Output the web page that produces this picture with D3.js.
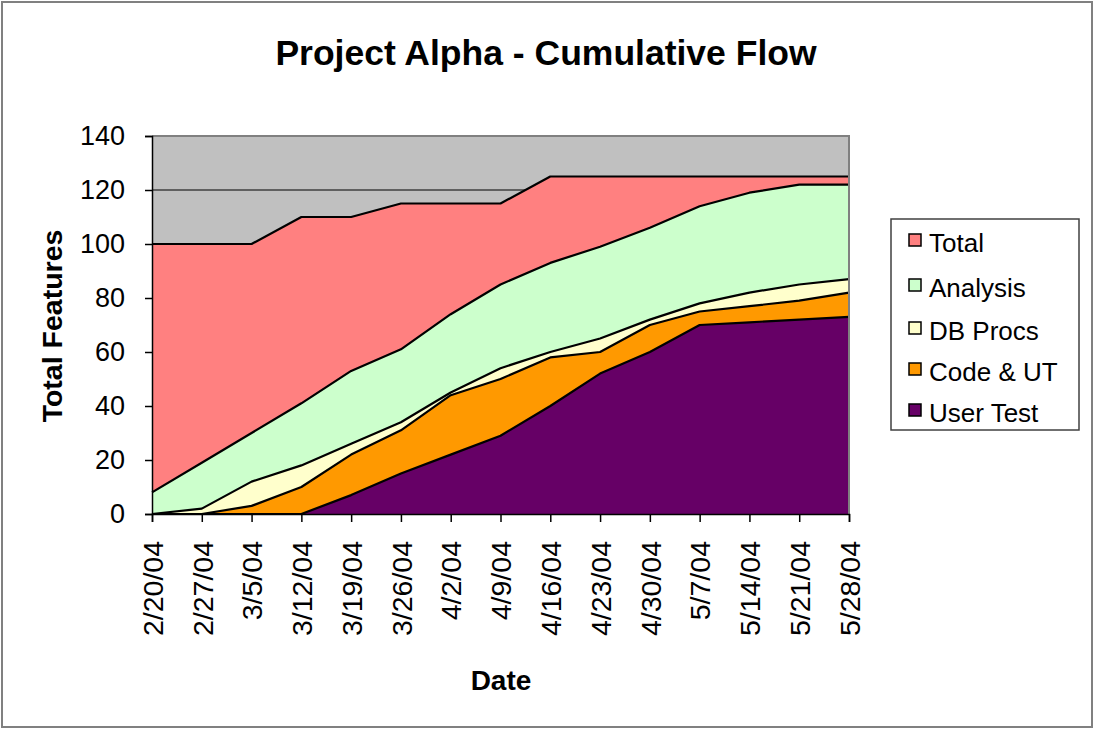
<!DOCTYPE html>
<html>
<head>
<meta charset="utf-8">
<script src="https://cdn.jsdelivr.net/npm/d3@7"></script>
<style>
  html, body { margin: 0; padding: 0; background: #fff; }
  svg { display: block; font-family: "Liberation Sans", Arial, sans-serif; }
</style>
</head>
<body>
<svg id="chart" width="1094" height="730"></svg>
<script>
const dates = ["2/20/04","2/27/04","3/5/04","3/12/04","3/19/04","3/26/04","4/2/04","4/9/04","4/16/04","4/23/04","4/30/04","5/7/04","5/14/04","5/21/04","5/28/04"];
const seriesNames = ["Total","Analysis","DB Procs","Code & UT","User Test"];
const total    = [100,100,100,110,110,115,115,115,125,125,125,125,125,125,125];
const analysis = [8,19,30,41,53,61,74,85,93,99,106,114,119,122,122];
const dbProcs  = [0,2,12,18,26,34,45,54,60,65,72,78,82,85,87];
const codeUT   = [0,0,3,10,22,31,44,50,58,60,70,75,77,79,82];
const userTest = [0,0,0,0,7,15,22,29,40,52,60,70,71,72,73];
const yTicks = [0,20,40,60,80,100,120,140];
const colors = ["#FF8080","#CCFFCC","#FFFFCC","#FF9900","#660066"];
const seriesValues = [total, analysis, dbProcs, codeUT, userTest];

const svg = d3.select("#chart");
const W = 1094, H = 730;

// outer border
svg.append("rect").attr("x",2).attr("y",2).attr("width",W-4).attr("height",H-5)
  .attr("fill","#fff").attr("stroke","#808080").attr("stroke-width",2);

const pl = 152, pr = 849, pt = 136, pb = 514;
const x = d3.scalePoint().domain(dates).range([pl, pr]);
const y = d3.scaleLinear().domain([0,140]).range([pb, pt]);

// plot background
svg.append("rect").attr("x",pl).attr("y",pt).attr("width",pr-pl).attr("height",pb-pt)
  .attr("fill","#C0C0C0");

// gridlines
svg.append("g").selectAll("line").data(yTicks.filter(d=>d>0)).join("line")
  .attr("x1",pl).attr("x2",pr).attr("y1",d=>y(d)).attr("y2",d=>y(d))
  .attr("stroke","#000").attr("stroke-width",1.2);

// areas
const area = d3.area().x((d,i)=>x(dates[i])).y0(y(0)).y1(d=>y(d));
const line = d3.line().x((d,i)=>x(dates[i])).y(d=>y(d));
seriesValues.forEach((vals, k) => {
  svg.append("path").attr("d", area(vals)).attr("fill", colors[k]);
  svg.append("path").attr("d", line(vals)).attr("fill","none")
    .attr("stroke","#000").attr("stroke-width",2.2).attr("stroke-linejoin","round");
});

// plot border (top/right)
svg.append("path").attr("d",`M${pl},${pt}H${pr}V${pb}`).attr("fill","none")
  .attr("stroke","#808080").attr("stroke-width",2);

// y axis
const yAxis = d3.axisLeft(y).tickValues(yTicks).tickSize(7).tickPadding(20);
const gy = svg.append("g").attr("transform",`translate(${pl},0)`).call(yAxis);
gy.select(".domain").attr("stroke","#000").attr("stroke-width",1.5);
gy.selectAll(".tick line").attr("stroke","#000").attr("stroke-width",1.5);
gy.selectAll(".tick text").attr("font-size",27).attr("fill","#000")
  .attr("font-family","Liberation Sans, Arial, sans-serif");

// x axis
const xAxis = d3.axisBottom(x).tickSize(8).tickFormat(d=>d);
const gx = svg.append("g").attr("transform",`translate(0,${pb})`).call(xAxis);
gx.select(".domain").attr("stroke","#000").attr("stroke-width",1.5);
gx.selectAll(".tick line").attr("stroke","#000").attr("stroke-width",1.5);
gx.selectAll(".tick text")
  .attr("font-size",28.5).attr("fill","#000")
  .attr("font-family","Liberation Sans, Arial, sans-serif")
  .attr("text-anchor","end")
  .attr("transform","rotate(-90)")
  .attr("x",-27).attr("y",0).attr("dy","0.36em");

// title
svg.append("text").attr("x",546).attr("y",65).attr("text-anchor","middle")
  .attr("font-size",35.5).attr("font-weight","bold").text("Project Alpha - Cumulative Flow");

// axis titles
svg.append("text").attr("x",501).attr("y",690).attr("text-anchor","middle")
  .attr("font-size",28).attr("font-weight","bold").text("Date");
svg.append("text").attr("transform","translate(62,326) rotate(-90)").attr("text-anchor","middle")
  .attr("font-size",28.5).attr("font-weight","bold").text("Total Features");

// legend
const lg = svg.append("g");
lg.append("rect").attr("x",891).attr("y",219).attr("width",188).attr("height",211)
  .attr("fill","#fff").attr("stroke","#404040").attr("stroke-width",1.5);
const rowY = [240,285,328,369,410];
seriesNames.forEach((name,k) => {
  lg.append("rect").attr("x",909).attr("y",rowY[k]-6).attr("width",12).attr("height",12)
    .attr("fill",colors[k]).attr("stroke","#000").attr("stroke-width",1.5);
  lg.append("text").attr("x",929).attr("y",rowY[k]+12).attr("font-size",26).text(name);
});
</script>
</body>
</html>
